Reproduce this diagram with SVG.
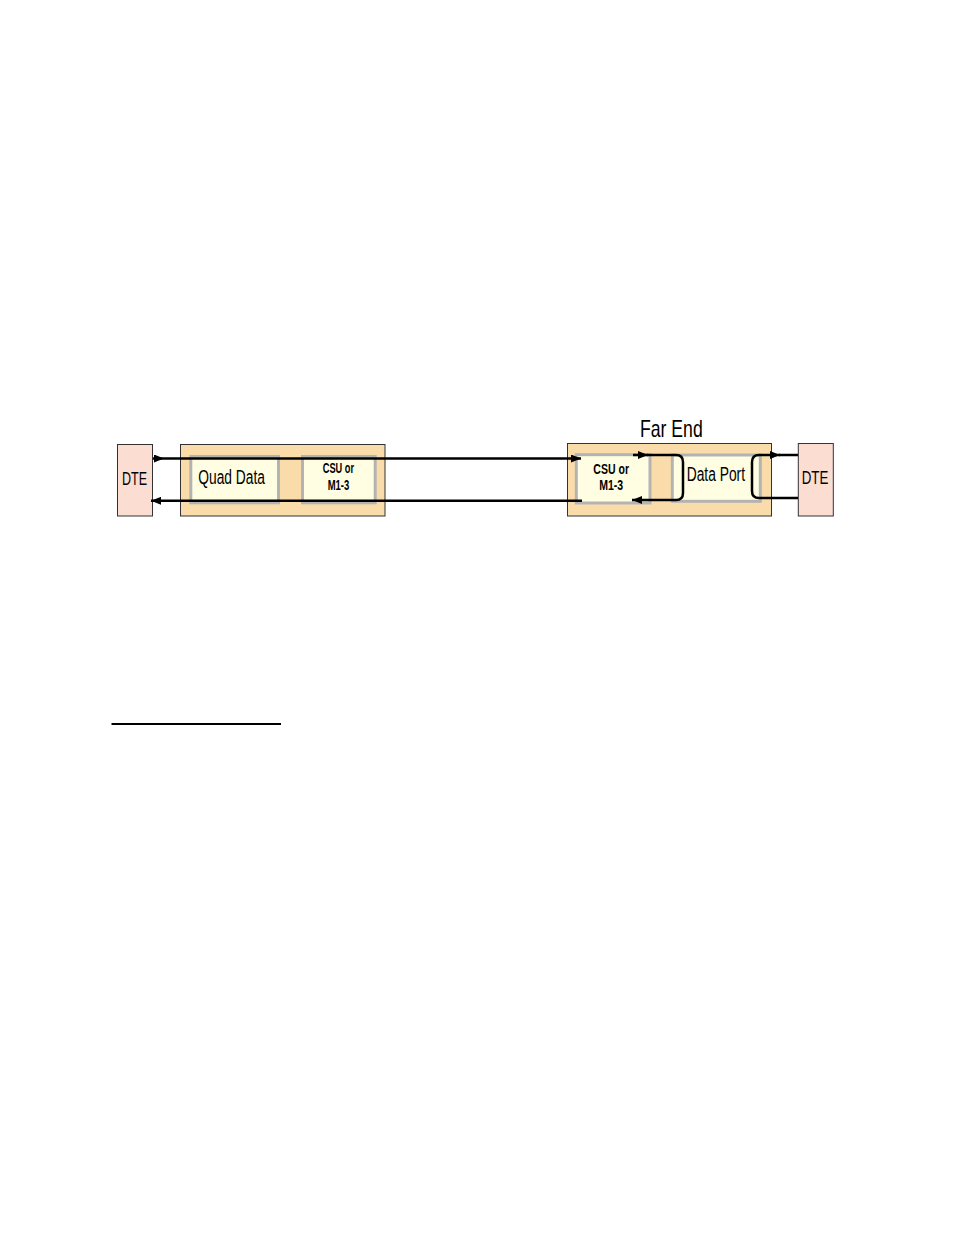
<svg xmlns="http://www.w3.org/2000/svg" width="954" height="1235" viewBox="0 0 954 1235">
<style>
.outer{fill:#FADCAB;stroke:#333;stroke-width:1}
.inner{fill:#FFFEE2;stroke:#B3B3B3;stroke-width:3}
.dte{fill:#FCDDD2;stroke:#333;stroke-width:1}
.t{font-family:"Liberation Sans",Arial,sans-serif;fill:#000}
.big{font-size:20px}
.small{font-size:14px;font-weight:bold}
.ln{fill:none;stroke:#000;stroke-width:2.5}
</style>
<defs>
<marker id="arr" viewBox="0 0 10 8" refX="10" refY="4" markerWidth="10" markerHeight="8" markerUnits="userSpaceOnUse" orient="auto">
<path d="M0,0 L10,4 L0,8 z" fill="#000"/>
</marker>
</defs>
<rect width="954" height="1235" fill="#fff"/>

<g id="dte-left">
<rect class="dte" x="117.5" y="444.5" width="35" height="71.5"/>
<text class="t" x="134.5" y="485" font-size="18" text-anchor="middle" textLength="25" lengthAdjust="spacingAndGlyphs">DTE</text>
</g>

<g id="near-end">
<rect class="outer" x="180.5" y="444.5" width="204.5" height="71.5"/>
<g id="quad-data">
<rect class="inner" x="190.8" y="456.5" width="87.7" height="46.3"/>
<text class="t big" x="198.3" y="484.3" textLength="66.7" lengthAdjust="spacingAndGlyphs">Quad Data</text>
</g>
<g id="csu-near">
<rect class="inner" x="302.5" y="456.5" width="72.7" height="46.3"/>
<text class="t small" x="338.4" y="473.3" text-anchor="middle" textLength="31.3" lengthAdjust="spacingAndGlyphs">CSU or</text>
<text class="t small" x="338.5" y="490" text-anchor="middle" textLength="21.6" lengthAdjust="spacingAndGlyphs">M1-3</text>
</g>
</g>

<g id="far-end">
<text class="t" x="640" y="437.3" font-size="24" textLength="62.7" lengthAdjust="spacingAndGlyphs">Far End</text>
<rect class="outer" x="567.5" y="443.5" width="204" height="72.5"/>
<g id="csu-far">
<rect class="inner" x="576.3" y="454.7" width="73.7" height="48.3"/>
<text class="t small" x="611.2" y="474" text-anchor="middle" textLength="35.7" lengthAdjust="spacingAndGlyphs">CSU or</text>
<text class="t small" x="611.2" y="490" text-anchor="middle" textLength="24" lengthAdjust="spacingAndGlyphs">M1-3</text>
</g>
<g id="data-port">
<rect class="inner" x="672.3" y="455" width="88" height="46.3"/>
<text class="t big" x="686.7" y="480.5" textLength="58.3" lengthAdjust="spacingAndGlyphs">Data Port</text>
</g>
</g>

<g id="dte-right">
<rect class="dte" x="798.3" y="443.5" width="35" height="72.5"/>
<text class="t" x="815" y="484.3" font-size="18" text-anchor="middle" textLength="26.6" lengthAdjust="spacingAndGlyphs">DTE</text>
</g>

<g id="connectors">
<path class="ln" d="M153 458.5 L164 458.5 L581 458.5" marker-mid="url(#arr)" marker-end="url(#arr)"/>
<path class="ln" d="M582 500.8 L151 500.8" marker-end="url(#arr)"/>
<path class="ln" d="M633 455 L648 455" marker-end="url(#arr)"/>
<path class="ln" d="M647 455 H676 Q683 455 683 462 V493 Q683 500 676 500 H632" marker-end="url(#arr)"/>
<path class="ln" d="M798 498 H759 Q752 498 752 491 V462 Q752 455 759 455 H780" marker-end="url(#arr)"/>
<path class="ln" d="M779 455 H798"/>
</g>

<line x1="111.5" y1="724" x2="281" y2="724" stroke="#000" stroke-width="2"/>
</svg>
